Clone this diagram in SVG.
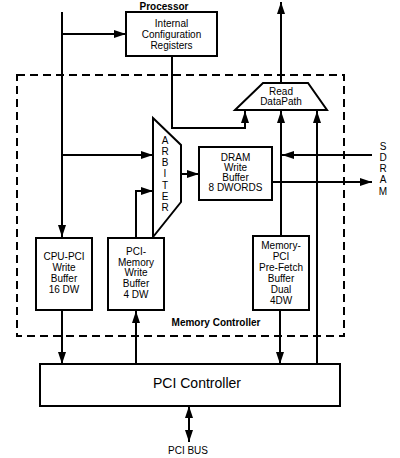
<svg xmlns="http://www.w3.org/2000/svg" width="400" height="458" viewBox="0 0 400 458">
<style>
  .box { fill: #fff; stroke: #000; stroke-width: 2; }
  .t { font-family: "Liberation Sans", Arial, sans-serif; font-size: 10px; fill: #000; text-anchor: middle; }
  .b { font-weight: bold; }
  .big { font-size: 14px; }
  .w { fill: none; stroke: #000; stroke-width: 2; }
  .dash { fill: none; stroke: #000; stroke-width: 2; stroke-dasharray: 8 5; }
</style>
<defs>
  <marker id="ah" viewBox="0 0 12 8" refX="12" refY="4" markerWidth="12" markerHeight="8" markerUnits="userSpaceOnUse" orient="auto-start-reverse">
    <path d="M0,0 L12,4 L0,8 z" fill="#000"/>
  </marker>
</defs>
<rect width="400" height="458" fill="#fff"/>

<g id="memory-controller">
  <rect class="dash" x="17" y="75" width="327" height="261"/>
  <text class="t b" x="216" y="325.5">Memory Controller</text>
</g>

<g id="connectors">
  <path class="w" d="M62,12 V237" marker-end="url(#ah)"/>
  <path class="w" d="M62,34 H126" marker-end="url(#ah)"/>
  <path class="w" d="M62,155 H153" marker-end="url(#ah)"/>
  <path class="w" d="M172,56 V128 H245 V111" marker-end="url(#ah)"/>
  <path class="w" d="M281,83 V2" marker-end="url(#ah)"/>
  <path class="w" d="M281,236 V111" marker-end="url(#ah)"/>
  <path class="w" d="M317,364 V111" marker-end="url(#ah)"/>
  <path class="w" d="M372,155 H282" marker-end="url(#ah)"/>
  <path class="w" d="M272,182 H372" marker-end="url(#ah)"/>
  <path class="w" d="M181,174 H199" marker-end="url(#ah)"/>
  <path class="w" d="M136,238 V191 H153" marker-end="url(#ah)"/>
  <path class="w" d="M136,364 V311" marker-end="url(#ah)"/>
  <path class="w" d="M62,310 V364" marker-end="url(#ah)"/>
  <path class="w" d="M280,310 V364" marker-end="url(#ah)"/>
  <path class="w" d="M189,406 V442" marker-start="url(#ah)" marker-end="url(#ah)"/>
</g>

<g id="processor">
  <text class="t b" x="164" y="9.5">Processor</text>
  <rect class="box" x="126" y="12" width="91" height="44"/>
  <text class="t" x="171.5" y="27">Internal</text>
  <text class="t" x="171.5" y="38">Configuration</text>
  <text class="t" x="171.5" y="48.5">Registers</text>
</g>

<g id="read-datapath">
  <polygon class="box" points="263,83 308,83 327,110 235,110"/>
  <text class="t" x="281" y="94.5">Read</text>
  <text class="t" x="281" y="104.5">DataPath</text>
</g>

<g id="arbiter">
  <polygon class="box" points="153,118 181,145 181,202 153,237"/>
  <text class="t" x="165" y="143.6">A</text>
  <text class="t" x="165" y="155.4">R</text>
  <text class="t" x="165" y="165.6">B</text>
  <text class="t" x="165" y="176.6">I</text>
  <text class="t" x="165" y="188.6">T</text>
  <text class="t" x="165" y="200.4">E</text>
  <text class="t" x="165" y="210.6">R</text>
</g>

<g id="dram-write-buffer">
  <rect class="box" x="199" y="147" width="73" height="53"/>
  <text class="t" x="235.5" y="161">DRAM</text>
  <text class="t" x="235.5" y="171">Write</text>
  <text class="t" x="235.5" y="181">Buffer</text>
  <text class="t" x="235.5" y="191">8 DWORDS</text>
</g>

<g id="sdram">
  <text class="t" x="383" y="149.6">S</text>
  <text class="t" x="383" y="160.8">D</text>
  <text class="t" x="383" y="172">R</text>
  <text class="t" x="383" y="183.4">A</text>
  <text class="t" x="383" y="195.4">M</text>
</g>

<g id="cpu-pci-write-buffer">
  <rect class="box" x="36" y="238" width="56" height="72"/>
  <text class="t" x="64" y="259.5">CPU-PCI</text>
  <text class="t" x="64" y="270.5">Write</text>
  <text class="t" x="64" y="281.5">Buffer</text>
  <text class="t" x="64" y="292.5">16 DW</text>
</g>

<g id="pci-memory-write-buffer">
  <rect class="box" x="108" y="238" width="56" height="72"/>
  <text class="t" x="136" y="254.5">PCI-</text>
  <text class="t" x="136" y="265.5">Memory</text>
  <text class="t" x="136" y="276">Write</text>
  <text class="t" x="136" y="286.5">Buffer</text>
  <text class="t" x="136" y="297.5">4 DW</text>
</g>

<g id="memory-pci-prefetch-buffer">
  <rect class="box" x="253" y="236" width="56" height="74"/>
  <text class="t" x="281" y="249">Memory-</text>
  <text class="t" x="281" y="260">PCI</text>
  <text class="t" x="281" y="271">Pre-Fetch</text>
  <text class="t" x="281" y="282">Buffer</text>
  <text class="t" x="281" y="293">Dual</text>
  <text class="t" x="281" y="304">4DW</text>
</g>

<g id="pci-controller">
  <rect class="box" x="40" y="364" width="300" height="42"/>
  <text class="t big" x="197" y="388">PCI Controller</text>
</g>

<g id="pci-bus">
  <text class="t" x="188" y="453.5">PCI BUS</text>
</g>
</svg>
